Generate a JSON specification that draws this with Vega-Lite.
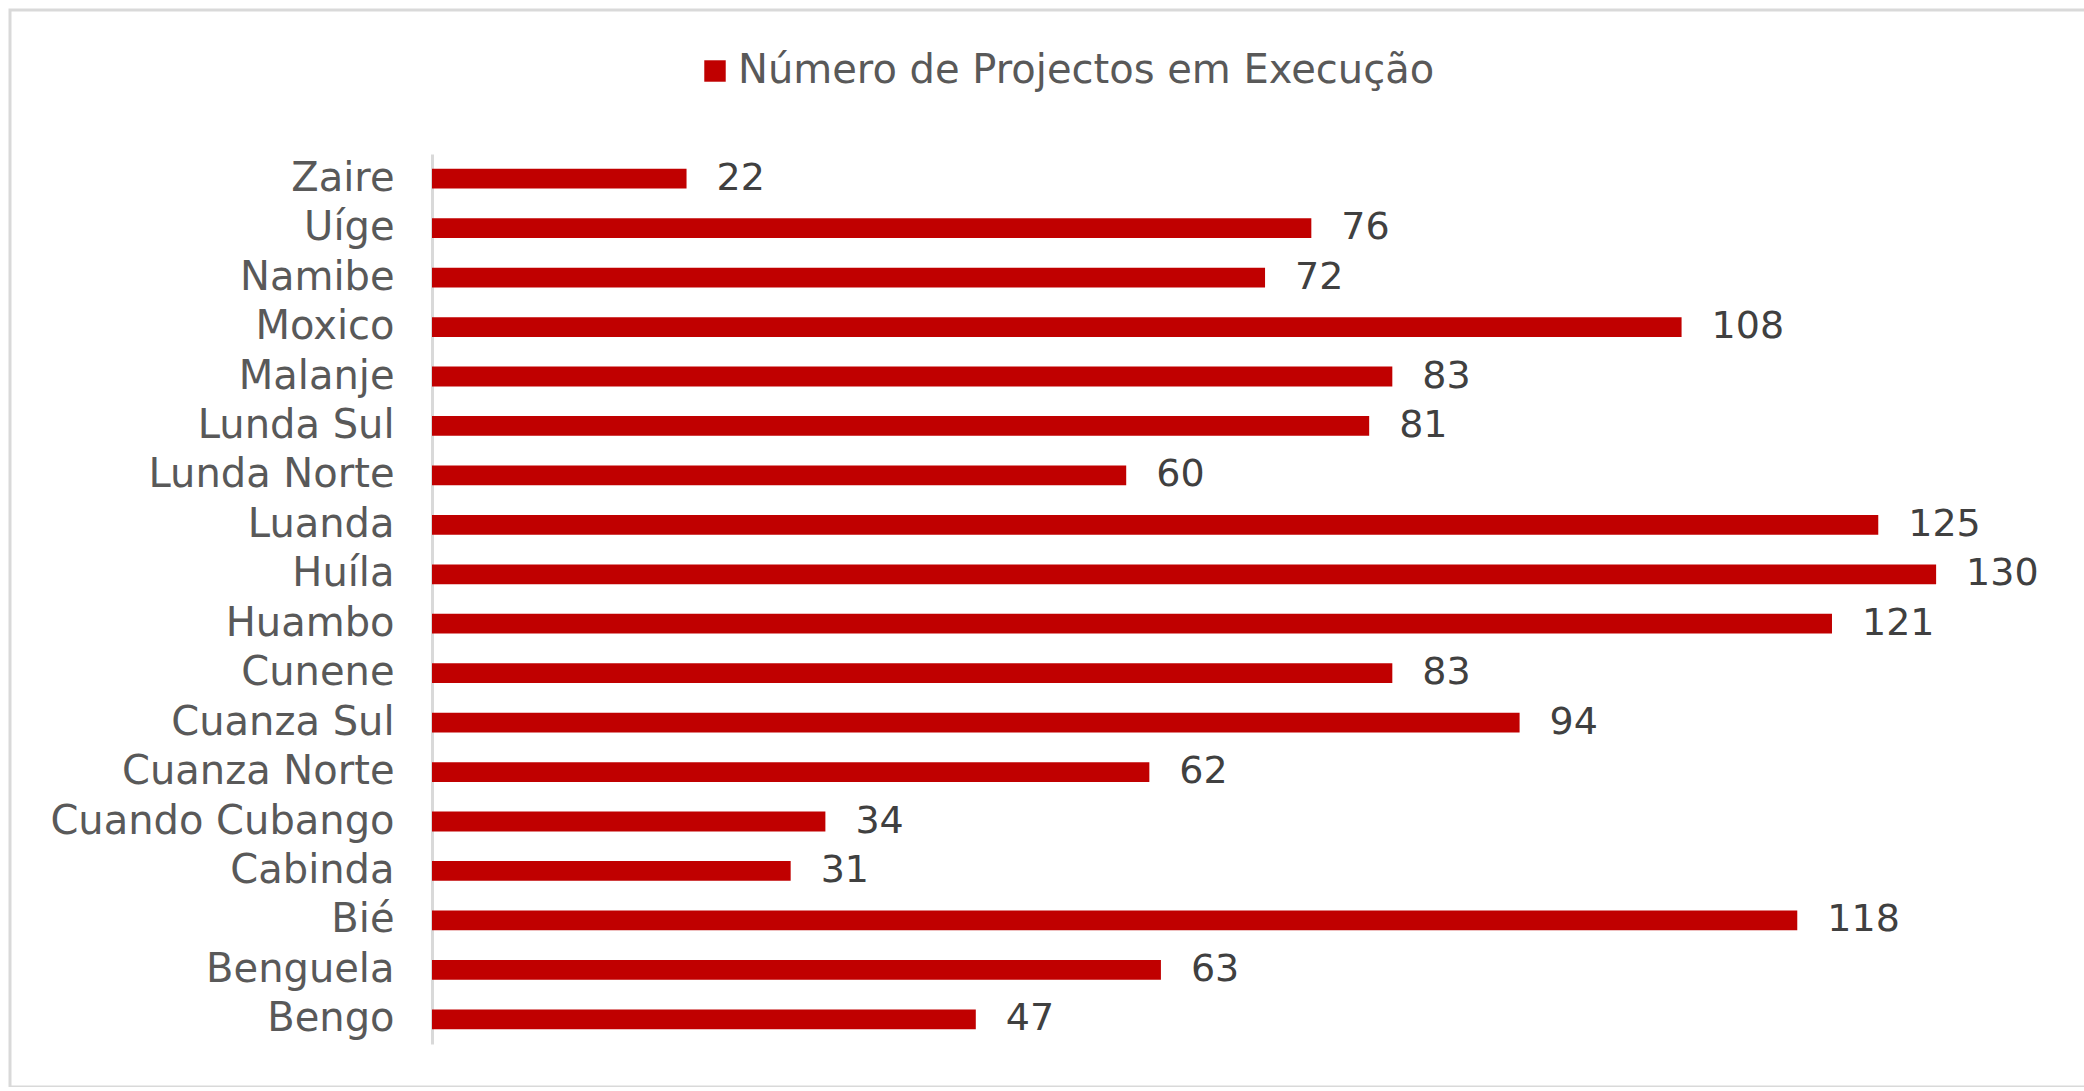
{
  "$schema": "https://vega.github.io/schema/vega-lite/v6.json",
  "autosize": "none",
  "padding": {"left": 10, "top": 10, "right": 0, "bottom": 0},
  "width": 2080,
  "height": 1077,
  "background": "white",
  "config": {
    "view": {"stroke": "#d9d9d9", "strokeWidth": 3},
    "font": "DejaVu Sans"
  },
  "data": {
    "values": [
      {"provincia": "Zaire", "projectos": 22},
      {"provincia": "Uíge", "projectos": 76},
      {"provincia": "Namibe", "projectos": 72},
      {"provincia": "Moxico", "projectos": 108},
      {"provincia": "Malanje", "projectos": 83},
      {"provincia": "Lunda Sul", "projectos": 81},
      {"provincia": "Lunda Norte", "projectos": 60},
      {"provincia": "Luanda", "projectos": 125},
      {"provincia": "Huíla", "projectos": 130},
      {"provincia": "Huambo", "projectos": 121},
      {"provincia": "Cunene", "projectos": 83},
      {"provincia": "Cuanza Sul", "projectos": 94},
      {"provincia": "Cuanza Norte", "projectos": 62},
      {"provincia": "Cuando Cubango", "projectos": 34},
      {"provincia": "Cabinda", "projectos": 31},
      {"provincia": "Bié", "projectos": 118},
      {"provincia": "Benguela", "projectos": 63},
      {"provincia": "Bengo", "projectos": 47}
    ]
  },
  "encoding": {
    "y": {
      "field": "provincia",
      "type": "nominal",
      "sort": null,
      "scale": {"range": [144, 1034], "paddingInner": 0.6, "paddingOuter": 0.3},
      "axis": {
        "title": null,
        "orient": "left",
        "offset": -422,
        "ticks": false,
        "grid": false,
        "domainColor": "#d9d9d9",
        "domainWidth": 3,
        "labelPadding": 38,
        "labelFontSize": 40,
        "labelColor": "#595959",
        "labelFont": "DejaVu Sans",
        "labelLimit": 1000
      }
    },
    "x": {
      "field": "projectos",
      "type": "quantitative",
      "scale": {"domain": [0, 143.3], "range": [422, 2080], "nice": false},
      "axis": null
    }
  },
  "layer": [
    {
      "mark": {"type": "bar"},
      "encoding": {
        "color": {
          "datum": "Número de Projectos em Execução",
          "type": "nominal",
          "scale": {"range": ["#C00000"]},
          "legend": {
            "title": null,
            "orient": "none",
            "legendX": 685,
            "legendY": 41,
            "padding": 0,
            "symbolType": "square",
            "symbolSize": 460,
            "symbolStrokeWidth": 0,
            "labelOffset": 3,
            "labelFontSize": 40,
            "labelColor": "#595959",
            "labelFont": "DejaVu Sans",
            "labelLimit": 1000
          }
        }
      }
    },
    {
      "mark": {"type": "text", "align": "left", "baseline": "middle", "dx": 30, "fontSize": 38, "color": "#404040", "font": "DejaVu Sans"},
      "encoding": {
        "text": {"field": "projectos", "type": "quantitative"}
      }
    }
  ]
}
